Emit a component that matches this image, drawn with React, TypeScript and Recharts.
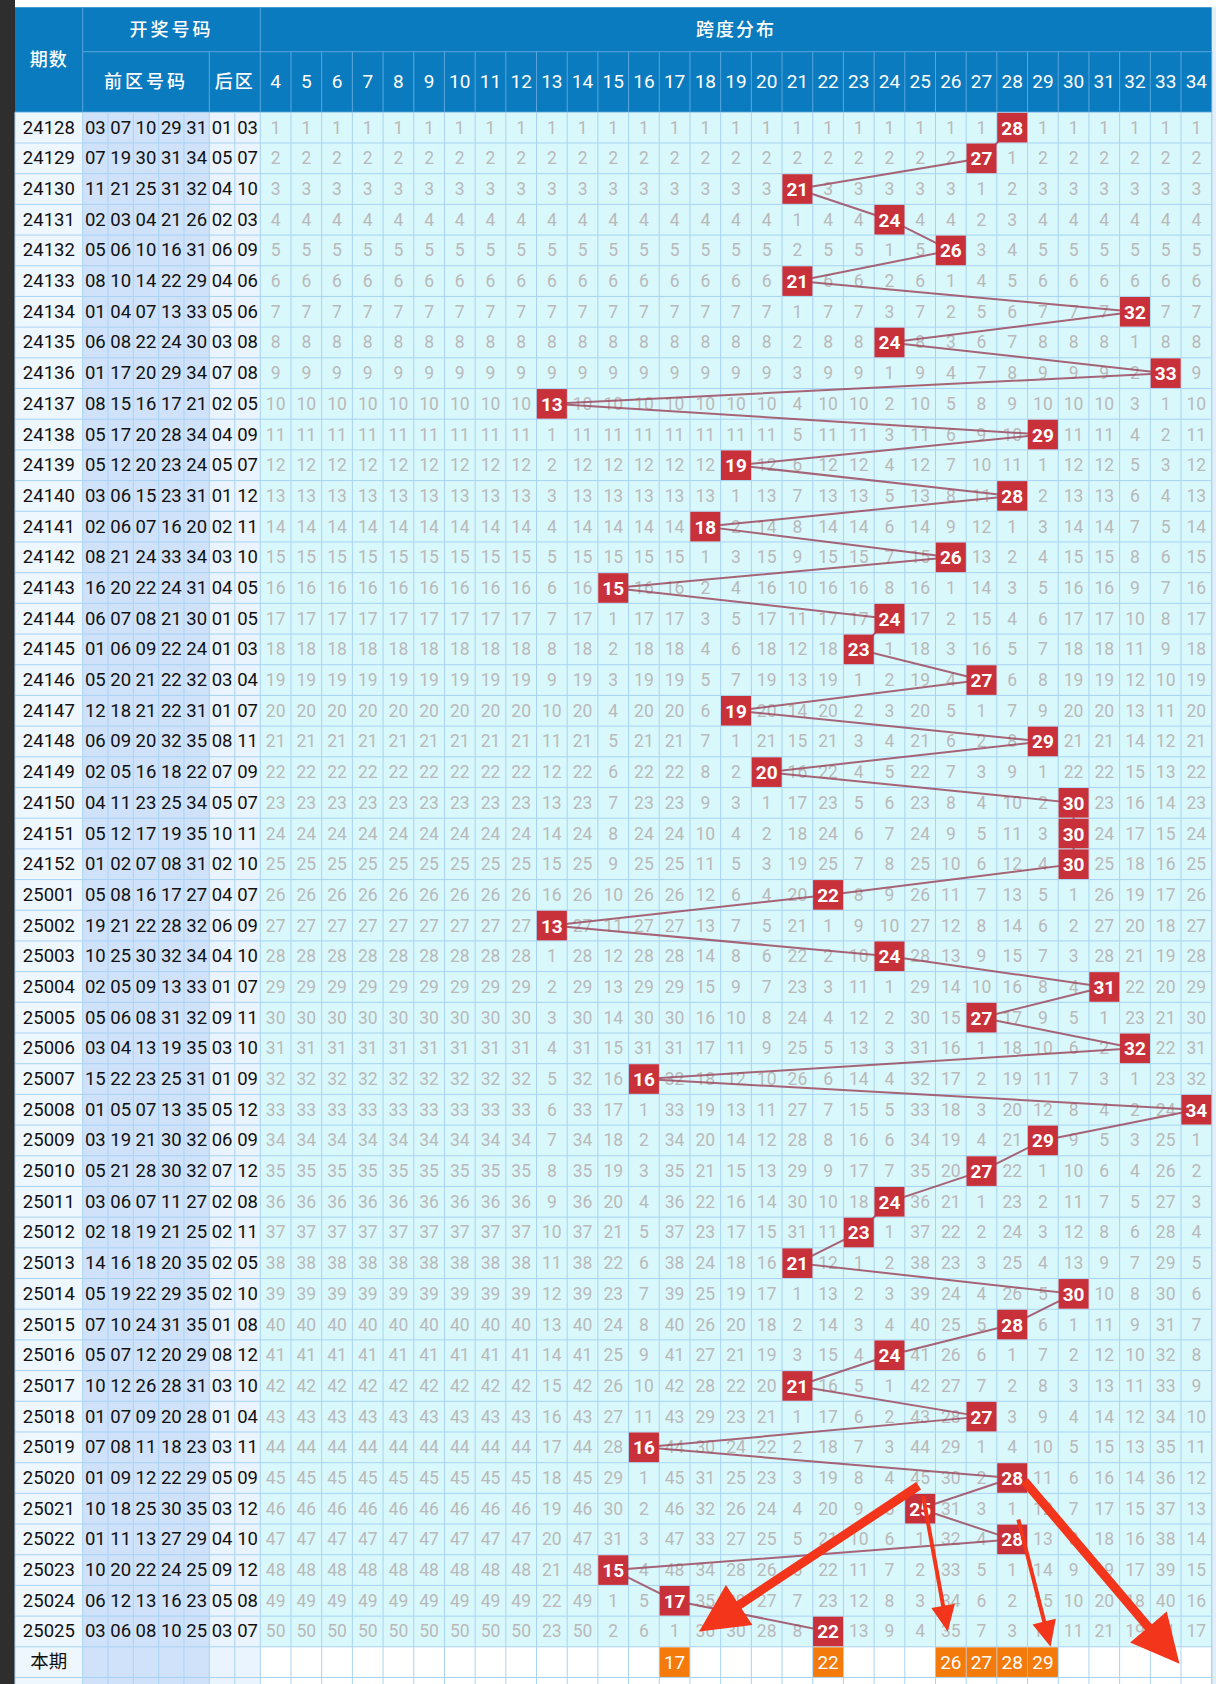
import React from 'react';
import { ScatterChart, Scatter, XAxis, YAxis, ReferenceArea, ReferenceLine } from 'recharts';

// draw data: issue, front zone, back zone, span
const issues = [
  '24128', '24129', '24130', '24131', '24132', '24133', '24134', '24135', '24136', '24137',
  '24138', '24139', '24140', '24141', '24142', '24143', '24144', '24145', '24146', '24147',
  '24148', '24149', '24150', '24151', '24152', '25001', '25002', '25003', '25004', '25005',
  '25006', '25007', '25008', '25009', '25010', '25011', '25012', '25013', '25014', '25015',
  '25016', '25017', '25018', '25019', '25020', '25021', '25022', '25023', '25024', '25025',
];

const frontNumbers = [
  ['03', '07', '10', '29', '31'], ['07', '19', '30', '31', '34'], ['11', '21', '25', '31', '32'],
  ['02', '03', '04', '21', '26'], ['05', '06', '10', '16', '31'], ['08', '10', '14', '22', '29'],
  ['01', '04', '07', '13', '33'], ['06', '08', '22', '24', '30'], ['01', '17', '20', '29', '34'],
  ['08', '15', '16', '17', '21'], ['05', '17', '20', '28', '34'], ['05', '12', '20', '23', '24'],
  ['03', '06', '15', '23', '31'], ['02', '06', '07', '16', '20'], ['08', '21', '24', '33', '34'],
  ['16', '20', '22', '24', '31'], ['06', '07', '08', '21', '30'], ['01', '06', '09', '22', '24'],
  ['05', '20', '21', '22', '32'], ['12', '18', '21', '22', '31'], ['06', '09', '20', '32', '35'],
  ['02', '05', '16', '18', '22'], ['04', '11', '23', '25', '34'], ['05', '12', '17', '19', '35'],
  ['01', '02', '07', '08', '31'], ['05', '08', '16', '17', '27'], ['19', '21', '22', '28', '32'],
  ['10', '25', '30', '32', '34'], ['02', '05', '09', '13', '33'], ['05', '06', '08', '31', '32'],
  ['03', '04', '13', '19', '35'], ['15', '22', '23', '25', '31'], ['01', '05', '07', '13', '35'],
  ['03', '19', '21', '30', '32'], ['05', '21', '28', '30', '32'], ['03', '06', '07', '11', '27'],
  ['02', '18', '19', '21', '25'], ['14', '16', '18', '20', '35'], ['05', '19', '22', '29', '35'],
  ['07', '10', '24', '31', '35'], ['05', '07', '12', '20', '29'], ['10', '12', '26', '28', '31'],
  ['01', '07', '09', '20', '28'], ['07', '08', '11', '18', '23'], ['01', '09', '12', '22', '29'],
  ['10', '18', '25', '30', '35'], ['01', '11', '13', '27', '29'], ['10', '20', '22', '24', '25'],
  ['06', '12', '13', '16', '23'], ['03', '06', '08', '10', '25'],
];

const backNumbers = [
  ['01', '03'], ['05', '07'], ['04', '10'], ['02', '03'], ['06', '09'], ['04', '06'], ['05', '06'],
  ['03', '08'], ['07', '08'], ['02', '05'], ['04', '09'], ['05', '07'], ['01', '12'], ['02', '11'],
  ['03', '10'], ['04', '05'], ['01', '05'], ['01', '03'], ['03', '04'], ['01', '07'], ['08', '11'],
  ['07', '09'], ['05', '07'], ['10', '11'], ['02', '10'], ['04', '07'], ['06', '09'], ['04', '10'],
  ['01', '07'], ['09', '11'], ['03', '10'], ['01', '09'], ['05', '12'], ['06', '09'], ['07', '12'],
  ['02', '08'], ['02', '11'], ['02', '05'], ['02', '10'], ['01', '08'], ['08', '12'], ['03', '10'],
  ['01', '04'], ['03', '11'], ['05', '09'], ['03', '12'], ['04', '10'], ['09', '12'], ['05', '08'],
  ['03', '07'],
];

const spans = [
  28, 27, 21, 24, 26, 21, 32, 24, 33, 13, 29, 19, 28, 18, 26, 15, 24, 23, 27, 19, 29, 20, 30, 30, 30,
  22, 13, 24, 31, 27, 32, 16, 34, 29, 27, 24, 23, 21, 30, 28, 24, 21, 27, 16, 28, 25, 28, 15, 17, 22,
];

const spanTicks = [
  4, 5, 6, 7, 8, 9, 10, 11, 12, 13, 14, 15, 16, 17, 18, 19, 20, 21, 22, 23, 24, 25, 26, 27, 28, 29,
  30, 31, 32, 33, 34,
];

const currentPicks = [17, 22, 26, 27, 28, 29];

// annotation arrows, in (span column, row) units
const arrows = [
  { x1: 24.95, y1: 44.25, x2: 17.8, y2: 49.0, heavy: true },
  { x1: 25.1, y1: 44.6, x2: 25.9, y2: 49.0, heavy: false },
  { x1: 28.2, y1: 45.35, x2: 29.25, y2: 49.5, heavy: false },
  { x1: 28.4, y1: 44.1, x2: 33.45, y2: 50.05, heavy: true },
];

// layout in data units (x: span column, y: row index)
const X_DOMAIN: [number, number] = [-4.9817, 34.64];
const Y_DOMAIN: [number, number] = [-4.1593, 50.7121];
const ISSUE_L = -4.493;
const FRONT_L = -2.287;
const FRONT_W = 0.825;
const BACK_L = 1.838;
const BACK_W = 0.831;
const SPAN_L = 3.5;
const SPAN_R = 34.5;
const HEAD_T = -3.921;
const HEAD_M = -2.475;
const HEAD_B = -0.5;
const CUR_ROW = spans.length;
const BOTTOM = Y_DOMAIN[1];

const FONT = "Roboto, 'Noto Sans CJK SC', sans-serif";
const GRID = '#a8d3f3';
const HEAD_LINE = '#5aa6dc';

// omission counts per span column
const omissionCells: { x: number; y: number; label: string }[] = [];
const lastHit: Record<number, number> = {};
spans.forEach((s, i) => {
  spanTicks.forEach((k) => {
    if (s === k) {
      lastHit[k] = i;
      return;
    }
    const prev = lastHit[k] ?? -1;
    omissionCells.push({ x: k, y: i, label: String(i - prev) });
  });
});

const hitPoints = spans.map((s, i) => ({ x: s, y: i, label: String(s) }));
const issueCells = [
  ...issues.map((label, i) => ({ x: (ISSUE_L + FRONT_L) / 2, y: i, label })),
  { x: (ISSUE_L + FRONT_L) / 2, y: CUR_ROW, label: '本期' },
];
const drawCells = [
  ...frontNumbers.flatMap((row, i) =>
    row.map((label, j) => ({ x: FRONT_L + FRONT_W * (j + 0.5), y: i, label }))
  ),
  ...backNumbers.flatMap((row, i) =>
    row.map((label, j) => ({ x: BACK_L + BACK_W * (j + 0.5), y: i, label }))
  ),
];
const pickCells = currentPicks.map((k) => ({ x: k, y: CUR_ROW, label: String(k) }));

const headMidY = (HEAD_T + HEAD_M) / 2;
const headLowY = (HEAD_M + HEAD_B) / 2;
const headerTexts = [
  { x: (ISSUE_L + FRONT_L) / 2, y: (HEAD_T + HEAD_B) / 2, label: '期数', sp: 1 },
  { x: (FRONT_L + SPAN_L) / 2, y: headMidY, label: '开奖号码', sp: 3 },
  { x: (SPAN_L + SPAN_R) / 2, y: headMidY, label: '跨度分布', sp: 2 },
  { x: (FRONT_L + BACK_L) / 2, y: headLowY, label: '前区号码', sp: 3 },
  { x: (BACK_L + SPAN_L) / 2, y: headLowY, label: '后区', sp: 2 },
];
const headerTicks = spanTicks.map((k) => ({ x: k, y: headLowY, label: String(k) }));

// grid line positions
const colEdges = [
  ISSUE_L,
  ...[0, 1, 2, 3, 4, 5].map((j) => FRONT_L + FRONT_W * j),
  BACK_L + BACK_W,
  SPAN_L,
  ...spanTicks.map((k) => k + 0.5),
];
const rowEdges: number[] = [];
for (let i = 0; i <= CUR_ROW + 1; i++) rowEdges.push(i - 0.5);

const makeText = (size: number, color: string, weight = 400) => (props: any) => {
  const { cx, cy, payload } = props;
  return (
    <text
      x={cx}
      y={cy}
      textAnchor="middle"
      dominantBaseline="central"
      fontFamily={FONT}
      fontSize={size}
      fontWeight={weight}
      fill={color}
      letterSpacing={payload.sp ?? 0}
    >
      {payload.label}
    </text>
  );
};

const makeBox = (fill: string, weight: number) => (props: any) => {
  const { cx, cy, payload } = props;
  return (
    <g>
      <rect x={cx - 15} y={cy - 14.8} width={30} height={29.6} fill={fill} />
      <text
        x={cx}
        y={cy + 0.5}
        textAnchor="middle"
        dominantBaseline="central"
        fontFamily={FONT}
        fontSize={19}
        fontWeight={weight}
        fill="#fff"
      >
        {payload.label}
      </text>
    </g>
  );
};

const ArrowShape = ({ points, heavy }: { points: { x: number; y: number }[]; heavy: boolean }) => {
  if (!points || points.length < 2) return null;
  const [a, b] = points;
  const dx = b.x - a.x;
  const dy = b.y - a.y;
  const len = Math.sqrt(dx * dx + dy * dy);
  const ux = dx / len;
  const uy = dy / len;
  const nx = -uy;
  const ny = ux;
  const shaft = heavy ? 4.5 : 2;
  const headW = heavy ? 24 : 12;
  const headL = heavy ? 48 : 26;
  const bx = b.x - ux * headL;
  const by = b.y - uy * headL;
  const pts = [
    [a.x + nx * shaft, a.y + ny * shaft],
    [bx + nx * shaft, by + ny * shaft],
    [bx + nx * headW, by + ny * headW],
    [b.x, b.y],
    [bx - nx * headW, by - ny * headW],
    [bx - nx * shaft, by - ny * shaft],
    [a.x - nx * shaft, a.y - ny * shaft],
  ];
  return <polygon points={pts.map((p) => p.join(',')).join(' ')} fill="#f2351b" />;
};

const none = () => <g />;

export default function App() {
  return (
    <div style={{ width: 1216, height: 1684 }}>
      <style>{'body{margin:0;background:#fff}'}</style>
      <ScatterChart width={1216} height={1684} margin={{ top: 0, right: 0, bottom: 0, left: 0 }}>
        <XAxis type="number" dataKey="x" domain={X_DOMAIN} allowDataOverflow hide />
        <YAxis type="number" dataKey="y" domain={Y_DOMAIN} allowDataOverflow reversed hide />

        {/* page edges */}
        <ReferenceArea x1={X_DOMAIN[0]} x2={ISSUE_L} y1={Y_DOMAIN[0]} y2={BOTTOM} fill="#2e2e2e" fillOpacity={1} ifOverflow="visible" />
        <ReferenceArea x1={SPAN_R} x2={X_DOMAIN[1]} y1={HEAD_T} y2={BOTTOM} fill="#e4eef8" fillOpacity={1} ifOverflow="visible" />

        {/* column backgrounds */}
        <ReferenceArea x1={ISSUE_L} x2={FRONT_L} y1={HEAD_B} y2={BOTTOM} fill="#eef6fe" fillOpacity={1} ifOverflow="visible" />
        <ReferenceArea x1={FRONT_L} x2={BACK_L} y1={HEAD_B} y2={BOTTOM} fill="#cfe2fa" fillOpacity={1} ifOverflow="visible" />
        <ReferenceArea x1={BACK_L} x2={SPAN_L} y1={HEAD_B} y2={BOTTOM} fill="#eaf4fe" fillOpacity={1} ifOverflow="visible" />
        <ReferenceArea x1={SPAN_L} x2={SPAN_R} y1={HEAD_B} y2={CUR_ROW - 0.5} fill="#d9f8fc" fillOpacity={1} ifOverflow="visible" />
        <ReferenceArea x1={SPAN_L} x2={SPAN_R} y1={CUR_ROW - 0.5} y2={BOTTOM} fill="#ffffff" fillOpacity={1} ifOverflow="visible" />

        {/* header band */}
        <ReferenceArea x1={ISSUE_L} x2={SPAN_R} y1={HEAD_T} y2={HEAD_B} fill="#0a7bbf" fillOpacity={1} ifOverflow="visible" />

        {/* table grid */}
        {colEdges.map((x, n) => (
          <ReferenceLine key={`c${n}`} segment={[{ x, y: HEAD_B }, { x, y: BOTTOM }]} stroke={GRID} strokeWidth={1} ifOverflow="visible" />
        ))}
        <ReferenceLine segment={[{ x: SPAN_R, y: HEAD_B }, { x: SPAN_R, y: BOTTOM }]} stroke={GRID} strokeWidth={1} ifOverflow="visible" />
        {rowEdges.map((y, n) => (
          <ReferenceLine key={`r${n}`} segment={[{ x: ISSUE_L, y }, { x: SPAN_R, y }]} stroke={GRID} strokeWidth={1} ifOverflow="visible" />
        ))}

        {/* header lines */}
        <ReferenceLine segment={[{ x: FRONT_L, y: HEAD_M }, { x: SPAN_R, y: HEAD_M }]} stroke={HEAD_LINE} strokeWidth={1} ifOverflow="visible" />
        <ReferenceLine segment={[{ x: FRONT_L, y: HEAD_T }, { x: FRONT_L, y: HEAD_B }]} stroke={HEAD_LINE} strokeWidth={1} ifOverflow="visible" />
        <ReferenceLine segment={[{ x: SPAN_L, y: HEAD_T }, { x: SPAN_L, y: HEAD_B }]} stroke={HEAD_LINE} strokeWidth={1} ifOverflow="visible" />
        <ReferenceLine segment={[{ x: BACK_L, y: HEAD_M }, { x: BACK_L, y: HEAD_B }]} stroke={HEAD_LINE} strokeWidth={1} ifOverflow="visible" />
        {spanTicks.map((k) => (
          <ReferenceLine key={`h${k}`} segment={[{ x: k + 0.5, y: HEAD_M }, { x: k + 0.5, y: HEAD_B }]} stroke={HEAD_LINE} strokeWidth={1} ifOverflow="visible" />
        ))}

        <Scatter data={headerTexts} shape={makeText(18, '#ffffff', 500)} isAnimationActive={false} />
        <Scatter data={headerTicks} shape={makeText(19, '#ffffff', 400)} isAnimationActive={false} />
        <Scatter data={issueCells} shape={makeText(18.5, '#111111')} isAnimationActive={false} />
        <Scatter data={drawCells} shape={makeText(18.5, '#111111')} isAnimationActive={false} />
        <Scatter data={omissionCells} shape={makeText(17.5, '#b9b9b9')} isAnimationActive={false} />
        <Scatter
          data={hitPoints}
          line={{ stroke: '#9c4a5f', strokeWidth: 2, strokeOpacity: 0.85 }}
          shape={makeBox('#c9313a', 700)}
          isAnimationActive={false}
        />
        <Scatter data={pickCells} shape={makeBox('#f47a0c', 400)} isAnimationActive={false} />

        {arrows.map((a, n) => (
          <Scatter
            key={`a${n}`}
            data={[{ x: a.x1, y: a.y1 }, { x: a.x2, y: a.y2 }]}
            shape={none}
            line={(p: any) => <ArrowShape points={p.points} heavy={a.heavy} />}
            isAnimationActive={false}
          />
        ))}
      </ScatterChart>
    </div>
  );
}
